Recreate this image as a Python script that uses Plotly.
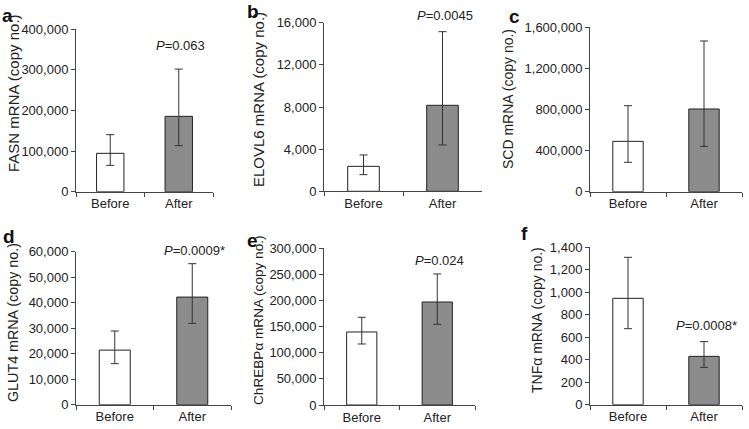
import plotly.graph_objects as go

W, H = 749, 429

categories = ["Before", "After"]

panel_letters = ["a", "b", "c", "d", "e", "f"]
y_titles = [
    "FASN mRNA (copy no.)",
    "ELOVL6 mRNA (copy no.)",
    "SCD mRNA (copy no.)",
    "GLUT4 mRNA (copy no.)",
    "ChREBPα mRNA (copy no.)",
    "TNFα mRNA (copy no.)",
]
p_labels = ["0.063", "0.0045", None, "0.0009*", "0.024", "0.0008*"]

fasn_mean = [94500, 185600]
fasn_upper = [140500, 302000]
fasn_lower = [64900, 113300]

elovl6_mean = [2370, 8160]
elovl6_upper = [3450, 15150]
elovl6_lower = [1580, 4400]

scd_mean = [490000, 805000]
scd_upper = [837000, 1467000]
scd_lower = [286000, 441000]

glut4_mean = [21400, 42200]
glut4_upper = [28900, 55300]
glut4_lower = [16100, 31900]

chrebp_mean = [139800, 197200]
chrebp_upper = [167900, 250900]
chrebp_lower = [116800, 154500]

tnf_mean = [946, 430]
tnf_upper = [1311, 561]
tnf_lower = [676, 332]

y_max = [400000, 16000, 1600000, 60000, 300000, 1400]
y_step = [100000, 4000, 400000, 10000, 50000, 200]

means = [fasn_mean, elovl6_mean, scd_mean, glut4_mean, chrebp_mean, tnf_mean]
uppers = [fasn_upper, elovl6_upper, scd_upper, glut4_upper, chrebp_upper, tnf_upper]
lowers = [fasn_lower, elovl6_lower, scd_lower, glut4_lower, chrebp_lower, tnf_lower]

# layout in pixels: (x_left, x_right, y_top, y_bottom)
boxes = [
    (76, 213, 29.3, 191.7),
    (324, 482, 22.7, 191.3),
    (590, 742, 27.3, 191.7),
    (76, 231, 251.7, 404.7),
    (324, 475, 248.3, 405.0),
    (590, 742, 247.3, 404.7),
]
letter_pos = [(7.5, 16), (253, 11), (514, 17), (8.5, 237), (252, 240), (524, 234)]
title_pos = [(13, 93), (258, 100), (508, 99), (13, 323), (258, 320), (537, 320)]
title_size = [15, 15, 14, 14.3, 13.6, 14]
p_y = [45, 15.5, None, 250, 260, 325]

FONT = "Liberation Sans, Arial, Helvetica, sans-serif"
bar_colors = ["#ffffff", "#8c8c8c"]

fig = go.Figure()
layout = dict(
    template="none",
    width=W, height=H,
    margin=dict(l=0, r=0, t=0, b=0, pad=0, autoexpand=False),
    paper_bgcolor="white", plot_bgcolor="white",
    showlegend=False, hovermode=False,
    font=dict(family=FONT, size=13, color="#222222"),
    annotations=[],
)

def px_x(x):
    return x / W

def px_y(y):
    return 1 - y / H

for i in range(6):
    n = i + 1
    xa = "x" if n == 1 else f"x{n}"
    ya = "y" if n == 1 else f"y{n}"
    m, up, lo = means[i], uppers[i], lowers[i]
    fig.add_trace(go.Bar(
        x=categories, y=m, xaxis=xa, yaxis=ya, width=0.4,
        marker=dict(color=bar_colors, line=dict(color="#222222", width=1)),
        error_y=dict(type="data", symmetric=False,
                     array=[u - v for u, v in zip(up, m)],
                     arrayminus=[v - l for v, l in zip(m, lo)],
                     color="#333333", thickness=1, width=4),
        hoverinfo="skip",
    ))
    x0, x1, yt, yb = boxes[i]
    xkey = "xaxis" if n == 1 else f"xaxis{n}"
    ykey = "yaxis" if n == 1 else f"yaxis{n}"
    layout[xkey] = dict(
        domain=[px_x(x0), px_x(x1)], anchor=ya, type="category",
        range=[-0.5, 1.5], showline=True, linecolor="#444444", linewidth=1,
        ticks="outside", ticklen=4, tickcolor="#444444", tickson="boundaries",
        showgrid=False, zeroline=False, fixedrange=True, automargin=False,
        tickfont=dict(size=13, color="#222222"),
    )
    layout[ykey] = dict(
        domain=[px_y(yb), px_y(yt)], anchor=xa,
        range=[0, y_max[i]], dtick=y_step[i], tick0=0, tickformat=",d",
        showline=True, linecolor="#444444", linewidth=1,
        ticks="outside", ticklen=4, tickcolor="#444444",
        showgrid=False, zeroline=False, fixedrange=True, automargin=False,
        tickfont=dict(size=13, color="#222222"),
    )
    lx, ly = letter_pos[i]
    layout["annotations"].append(dict(
        text=f"<b>{panel_letters[i]}</b>", x=px_x(lx), y=px_y(ly),
        xref="paper", yref="paper", xanchor="center", yanchor="middle",
        showarrow=False, font=dict(size=19, color="#111111", family=FONT),
    ))
    tx, ty = title_pos[i]
    layout["annotations"].append(dict(
        text=y_titles[i], x=px_x(tx), y=px_y(ty), xref="paper", yref="paper",
        xanchor="center", yanchor="middle", textangle=-90, showarrow=False,
        font=dict(size=title_size[i], color="#222222", family=FONT),
    ))
    if p_labels[i] is not None:
        layout["annotations"].append(dict(
            text=f"<i>P</i>=" + p_labels[i], x="After", y=px_y(p_y[i]),
            xref=xa, yref="paper", xanchor="center", yanchor="middle",
            xshift=2, showarrow=False,
            font=dict(size=13, color="#222222", family=FONT),
        ))

fig.update_layout(**layout)
fig.write_html(
    "out.html",
    config={"displayModeBar": False, "staticPlot": True},
    post_script="document.body.style.margin='0px';document.body.style.overflow='hidden';",
)
